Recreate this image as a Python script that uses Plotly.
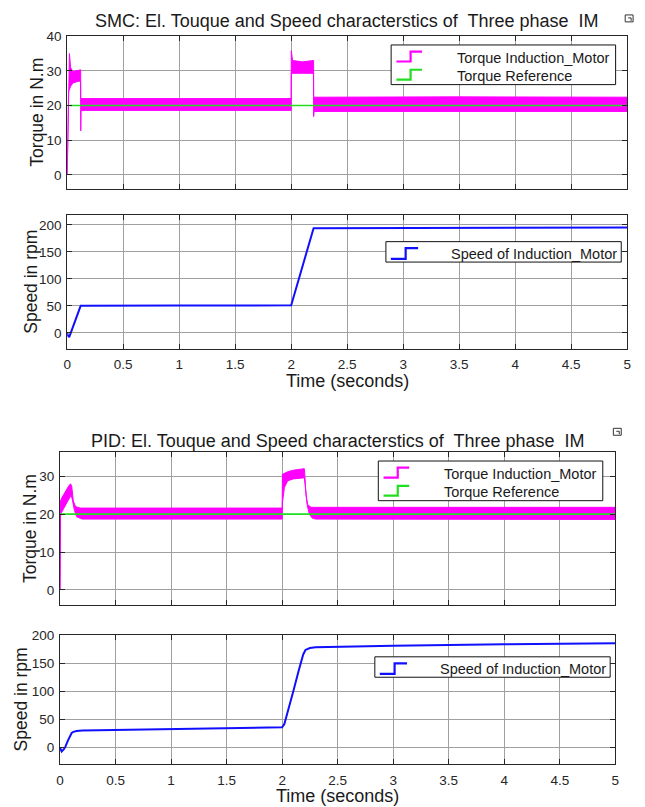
import plotly.graph_objects as go

W, H = 645, 807

# ---------------- data ----------------
# SMC torque: upper / lower envelope of the (ripply) electromagnetic torque
smc_torque_up_t = [0, 0.01, 0.02, 0.03, 0.05, 0.12, 0.121, 1.0, 2.0, 2.001, 2.012, 2.1, 2.2, 2.201, 3.5, 5.0]
smc_torque_up_v = [0, 26, 35, 31, 29.8, 30.3, 22.0, 22.0, 22.0, 35.8, 33.0, 32.6, 33.0, 22.4, 22.5, 22.4]
smc_torque_lo_t = [0, 0.012, 0.03, 0.05, 0.1, 0.119, 0.121, 0.124, 1.0, 2.0, 2.001, 2.1, 2.199, 2.2, 2.205, 3.5, 5.0]
smc_torque_lo_v = [0, 24, 25.5, 26.5, 27, 27, 12.7, 18.6, 18.6, 18.6, 29.3, 29.3, 29.3, 16.8, 18.3, 18.3, 18.3]

# PID torque envelope
pid_torque_up_t = [0, 0.004, 0.02, 0.05, 0.08, 0.095, 0.105, 0.12, 0.14, 0.18, 2.0, 2.003, 2.05, 2.1, 2.2, 2.205, 2.215, 2.23, 2.26, 5.0]
pid_torque_up_v = [0, 23.5, 24.5, 26.2, 27.5, 28.0, 27.5, 23.5, 22.0, 21.6, 21.6, 30.5, 31.2, 31.6, 32.0, 30.0, 25.0, 22.5, 21.8, 21.8]
pid_torque_lo_t = [0, 0.005, 0.03, 0.06, 0.09, 0.1, 0.11, 0.13, 0.15, 0.2, 2.0, 2.003, 2.02, 2.05, 2.1, 2.2, 2.21, 2.225, 2.245, 2.27, 2.3, 5.0]
pid_torque_lo_v = [0, 20.0, 21.5, 23.0, 24.5, 25.0, 24.0, 21.0, 19.3, 18.7, 18.7, 23.0, 27.0, 28.8, 29.3, 29.6, 27.0, 22.5, 20.0, 19.0, 18.7, 18.6]

# Torque reference
ref_t = [0, 5]
ref_v = [20, 20]

# Speeds
smc_speed_t = [0, 0.006, 0.018, 0.12, 1.0, 2.0, 2.2, 3.0, 5.0]
smc_speed_v = [0, -5, -8, 50, 50.5, 51, 194, 194.5, 195]

pid_speed_t = [0, 0.015, 0.035, 0.05, 0.07, 0.09, 0.105, 0.12, 0.15, 0.2, 0.5, 1.0, 1.5, 2.0,
               2.02, 2.05, 2.1, 2.15, 2.19, 2.21, 2.25, 2.3, 2.5, 3.0, 4.0, 5.0]
pid_speed_v = [0, -7, -3, 2, 12, 21, 26, 28, 29.5, 30.5, 31.5, 33, 34.5, 36,
               42, 62, 100, 138, 166, 174, 177.5, 179, 180, 181.5, 184, 186]

titles = ["SMC: El. Touque and Speed characterstics of\u00a0 Three phase\u00a0 IM",
          "PID: El. Touque and Speed characterstics of\u00a0 Three phase\u00a0 IM"]
torque_label = "Torque in N.m"
speed_label = "Speed in rpm"
time_label = "Time (seconds)"
legend_torque = ["Torque Induction_Motor", "Torque Reference"]
legend_speed = "Speed of Induction_Motor"

# ---------------- style / layout ----------------
FONT = "Arial, 'Liberation Sans', Helvetica, sans-serif"
MAG = "#ff00ff"
GRN = "#22dd22"
BLU = "#1010ff"
AX = "#262626"
GRID = "#a0a0a0"


def px_x(x):
    return x / W


def px_y(y):
    return 1 - y / H


# plot boxes in pixels (left, right, top, bottom)
boxes = [
    (64, 631, 29.3, 183.3),
    (64, 631, 210, 345),
    (56.7, 619, 449.3, 603.3),
    (56.7, 619, 633.3, 764),
]
yranges = [[-4, 40.05], [-30, 218], [-4, 36.3], [-30, 201]]
ydticks = [10, 50, 10, 50]

fig = go.Figure()


def band(tu, vu, tl, vl, ax):
    xs = list(tu) + list(tl)[::-1]
    ys = list(vu) + list(vl)[::-1]
    fig.add_trace(go.Scatter(x=xs, y=ys, mode="lines", fill="toself",
                             fillcolor=MAG, line=dict(color=MAG, width=1),
                             xaxis="x" + ax, yaxis="y" + ax, hoverinfo="skip"))


band(smc_torque_up_t, smc_torque_up_v, smc_torque_lo_t, smc_torque_lo_v, "")
fig.add_trace(go.Scatter(x=ref_t, y=ref_v, mode="lines", line=dict(color=GRN, width=1.6),
                         xaxis="x", yaxis="y"))
fig.add_trace(go.Scatter(x=smc_speed_t, y=smc_speed_v, mode="lines", line=dict(color=BLU, width=2),
                         xaxis="x2", yaxis="y2"))
band(pid_torque_up_t, pid_torque_up_v, pid_torque_lo_t, pid_torque_lo_v, "3")
fig.add_trace(go.Scatter(x=ref_t, y=ref_v, mode="lines", line=dict(color=GRN, width=1.6),
                         xaxis="x3", yaxis="y3"))
fig.add_trace(go.Scatter(x=pid_speed_t, y=pid_speed_v, mode="lines", line=dict(color=BLU, width=2),
                         xaxis="x4", yaxis="y4"))

layout = dict(width=W, height=H, margin=dict(l=0, r=0, t=0, b=0),
              paper_bgcolor="white", plot_bgcolor="white", showlegend=False,
              font=dict(family=FONT, color=AX))

for i, (l, r, t, b) in enumerate(boxes):
    sfx = "" if i == 0 else str(i + 1)
    layout["xaxis" + sfx] = dict(
        domain=[px_x(l), px_x(r)], range=[0, 5], dtick=0.5, tick0=0,
        anchor="y" + sfx, showgrid=True, gridcolor=GRID, gridwidth=1,
        showline=True, linecolor=AX, linewidth=1, mirror="ticks",
        ticks="inside", ticklen=5, tickcolor=AX, zeroline=False,
        showticklabels=(i in (1, 3)), tickfont=dict(size=13.5, color=AX, family=FONT),
        ticklabelstandoff=3)
    layout["yaxis" + sfx] = dict(
        domain=[px_y(b), px_y(t)], range=yranges[i], dtick=ydticks[i], tick0=0,
        anchor="x" + sfx, showgrid=True, gridcolor=GRID, gridwidth=1,
        showline=True, linecolor=AX, linewidth=1, mirror="ticks",
        ticks="inside", ticklen=5, tickcolor=AX, zeroline=False,
        tickfont=dict(size=13.5, color=AX, family=FONT), ticklabelstandoff=2)

annotations = []
shapes = []


def text(x, y, s, size, angle=0, xanchor="center"):
    annotations.append(dict(x=px_x(x), y=px_y(y), xref="paper", yref="paper", text=s,
                            showarrow=False, textangle=angle, xanchor=xanchor, yanchor="middle",
                            font=dict(family=FONT, size=size, color="#1a1a1a")))


# titles
text(347.5, 14.5, titles[0], 18)
text(338, 438, titles[1], 18)
# y-axis labels
text(33, 106, torque_label, 17.5, -90)
text(27, 277.5, speed_label, 17.5, -90)
text(27, 526, torque_label, 17.5, -90)
text(17, 698.7, speed_label, 17.5, -90)
# x-axis labels
text(347.5, 377.5, time_label, 18)
text(338, 796, time_label, 18)


def step_icon(x0, yl, yh, color, xv, x1):
    path = "M {} {} L {} {} L {} {} L {} {}".format(
        px_x(x0), px_y(yl), px_x(xv), px_y(yl), px_x(xv), px_y(yh), px_x(x1), px_y(yh))
    shapes.append(dict(type="path", path=path, xref="paper", yref="paper",
                       line=dict(color=color, width=2.2), layer="above"))


def legend_box(l, t, r, b):
    shapes.append(dict(type="rect", x0=px_x(l), x1=px_x(r), y0=px_y(b), y1=px_y(t),
                       xref="paper", yref="paper", fillcolor="white",
                       line=dict(color="#111111", width=1), layer="above"))


def torque_legend(l, t):
    legend_box(l, t, l + 227.3, t + 40)
    step_icon(l + 5.3, t + 16.7, t + 6.7, MAG, l + 19.7, l + 31.3)
    step_icon(l + 5.3, t + 35.0, t + 25.0, GRN, l + 19.7, l + 31.3)
    text(l + 65, t + 13.5, legend_torque[0], 14.5, xanchor="left")
    text(l + 65, t + 31.7, legend_torque[1], 14.5, xanchor="left")


def speed_legend(l, t):
    legend_box(l, t, l + 238.3, t + 20.6)
    step_icon(l + 5, t + 17.3, t + 6.6, BLU, l + 20, l + 32.6)
    text(l + 64.3, t + 12.3, legend_speed, 14.5, xanchor="left")


torque_legend(392, 38.3)
speed_legend(386.7, 236.7)
torque_legend(379, 458)
speed_legend(375.5, 655.5)


# small undock icons near the titles
def icon(x, y):
    shapes.append(dict(type="rect", x0=px_x(x), x1=px_x(x + 8), y0=px_y(y + 7), y1=px_y(y),
                       xref="paper", yref="paper", line=dict(color="#333333", width=1)))
    shapes.append(dict(type="path", xref="paper", yref="paper",
                       path="M {} {} L {} {} L {} {}".format(px_x(x + 3), px_y(y + 3), px_x(x + 6), px_y(y + 3),
                                                         px_x(x + 6), px_y(y + 6)),
                       line=dict(color="#333333", width=1)))


icon(629, 8)
icon(617, 425)

layout["annotations"] = annotations
layout["shapes"] = shapes
fig.update_layout(**layout)

# remove the default 8px page margin so the figure sits at the window's top-left corner
fig.write_html("out.html",
               config={"displayModeBar": False},
               post_script="document.body.style.margin='0';document.body.style.padding='0';"
                           "document.body.style.overflow='hidden';")
